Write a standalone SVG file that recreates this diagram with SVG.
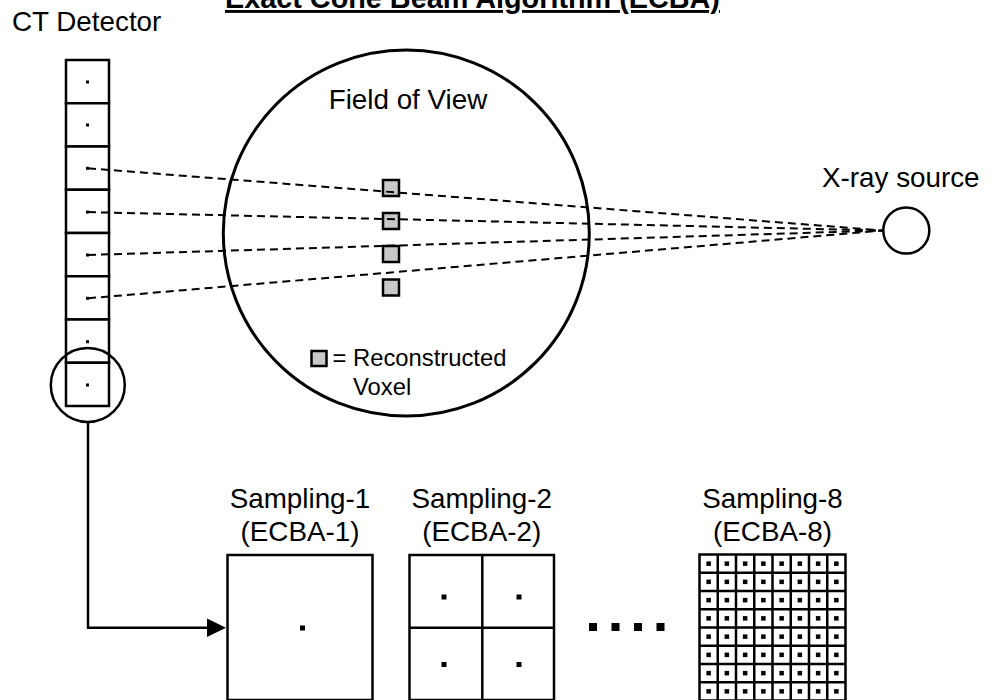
<svg xmlns="http://www.w3.org/2000/svg" width="992" height="700" viewBox="0 0 992 700">
<style>
  text { font-family: "Liberation Sans", Arial, sans-serif; fill: #000; }
  .lbl { font-size: 27.8px; }
  .title { font-size: 28.8px; font-weight: bold; text-decoration: underline; }
  .box { fill: #fff; stroke: #000; stroke-width: 2.5; }
  .thick { fill: none; stroke: #000; stroke-width: 3; }
  .thin { fill: none; stroke: #000; stroke-width: 2.5; }
  .ray { fill: none; stroke: #000; stroke-width: 2; stroke-dasharray: 8 5; }
  .voxel { fill: #c8c8c8; stroke: #000; stroke-width: 2.5; }
  .dot { fill: #000; }
</style>
<rect width="992" height="700" fill="#fff"/>

<g id="title">
  <text class="title" x="225" y="8">Exact Cone Beam Algorithm (ECBA)</text>
</g>

<g id="fov">
  <circle class="thick" cx="406.3" cy="233" r="183"/>
  <text class="lbl" x="408" y="109" text-anchor="middle">Field of View</text>
  <rect class="voxel" x="383" y="180" width="16" height="16"/>
  <rect class="voxel" x="383" y="213" width="16" height="16"/>
  <rect class="voxel" x="383" y="246" width="16" height="16"/>
  <rect class="voxel" x="383" y="279.5" width="16" height="16"/>
</g>

<g id="legend">
  <rect class="voxel" x="311.5" y="351" width="15" height="15"/>
  <text x="332.5" y="365.5" style="font-size:23.8px">= Reconstructed</text>
  <text x="353" y="394.5" style="font-size:23.8px">Voxel</text>
</g>

<g id="detector">
  <text class="lbl" x="12" y="31">CT Detector</text>
  <rect class="box" x="66" y="60" width="43" height="43.25"/>
  <rect class="box" x="66" y="103.25" width="43" height="43.25"/>
  <rect class="box" x="66" y="146.5" width="43" height="43.25"/>
  <rect class="box" x="66" y="189.75" width="43" height="43.25"/>
  <rect class="box" x="66" y="233" width="43" height="43.25"/>
  <rect class="box" x="66" y="276.25" width="43" height="43.25"/>
  <rect class="box" x="66" y="319.5" width="43" height="43.25"/>
  <rect class="box" x="66" y="362.75" width="43" height="43.25"/>
  <rect class="dot" x="86" y="80.5" width="3" height="3"/>
  <rect class="dot" x="86" y="123.5" width="3" height="3"/>
  <rect class="dot" x="86" y="166.8" width="3" height="3"/>
  <rect class="dot" x="86" y="210.6" width="3" height="3"/>
  <rect class="dot" x="86" y="253.5" width="3" height="3"/>
  <rect class="dot" x="86" y="296.8" width="3" height="3"/>
  <rect class="dot" x="86" y="340.2" width="3" height="3"/>
  <rect class="dot" x="86" y="383.5" width="3" height="3"/>
  <circle class="thin" cx="87.8" cy="385" r="37"/>
</g>

<g id="xray-source">
  <text class="lbl" x="822" y="187">X-ray source</text>
  <circle class="thin" cx="906.3" cy="230.5" r="23"/>
</g>

<g id="sampling-1">
  <text class="lbl" x="300" y="507.5" text-anchor="middle">Sampling-1</text>
  <text class="lbl" x="300" y="540.5" text-anchor="middle">(ECBA-1)</text>
  <rect class="box" x="227.5" y="555" width="145" height="145"/>
  <rect class="dot" x="300" y="625.5" width="5" height="5"/>
</g>

<g id="sampling-2">
  <text class="lbl" x="481.7" y="507.5" text-anchor="middle">Sampling-2</text>
  <text class="lbl" x="481.7" y="540.5" text-anchor="middle">(ECBA-2)</text>
  <rect class="box" x="409.5" y="555" width="144.5" height="145"/>
  <path class="thin" d="M482.3,555 V700 M409.5,627.7 H554"/>
  <rect class="dot" x="441.5" y="594.5" width="5" height="5"/>
  <rect class="dot" x="516.5" y="594.5" width="5" height="5"/>
  <rect class="dot" x="441.5" y="662" width="5" height="5"/>
  <rect class="dot" x="516.5" y="662" width="5" height="5"/>
</g>

<g id="ellipsis">
  <rect class="dot" x="589" y="623" width="8" height="8"/>
  <rect class="dot" x="611.5" y="623" width="8" height="8"/>
  <rect class="dot" x="634" y="623" width="8" height="8"/>
  <rect class="dot" x="656.5" y="623" width="8" height="8"/>
</g>

<g id="sampling-8">
  <text class="lbl" x="772.5" y="507.5" text-anchor="middle">Sampling-8</text>
  <text class="lbl" x="772.5" y="540.5" text-anchor="middle">(ECBA-8)</text>
  <rect class="box" x="699.5" y="554.5" width="146" height="146"/>
  <path class="thin" d="M717.75,554.5 V700 M736,554.5 V700 M754.25,554.5 V700 M772.5,554.5 V700 M790.75,554.5 V700 M809,554.5 V700 M827.25,554.5 V700
    M699.5,572.75 H845.5 M699.5,591 H845.5 M699.5,609.25 H845.5 M699.5,627.5 H845.5 M699.5,645.75 H845.5 M699.5,664 H845.5 M699.5,682.25 H845.5"/>
  <g fill="#000">
    <rect x="706.4" y="561.4" width="4.5" height="4.5"/><rect x="724.6" y="561.4" width="4.5" height="4.5"/><rect x="742.9" y="561.4" width="4.5" height="4.5"/><rect x="761.1" y="561.4" width="4.5" height="4.5"/><rect x="779.4" y="561.4" width="4.5" height="4.5"/><rect x="797.6" y="561.4" width="4.5" height="4.5"/><rect x="815.9" y="561.4" width="4.5" height="4.5"/><rect x="834.1" y="561.4" width="4.5" height="4.5"/>
    <rect x="706.4" y="579.6" width="4.5" height="4.5"/><rect x="724.6" y="579.6" width="4.5" height="4.5"/><rect x="742.9" y="579.6" width="4.5" height="4.5"/><rect x="761.1" y="579.6" width="4.5" height="4.5"/><rect x="779.4" y="579.6" width="4.5" height="4.5"/><rect x="797.6" y="579.6" width="4.5" height="4.5"/><rect x="815.9" y="579.6" width="4.5" height="4.5"/><rect x="834.1" y="579.6" width="4.5" height="4.5"/>
    <rect x="706.4" y="597.9" width="4.5" height="4.5"/><rect x="724.6" y="597.9" width="4.5" height="4.5"/><rect x="742.9" y="597.9" width="4.5" height="4.5"/><rect x="761.1" y="597.9" width="4.5" height="4.5"/><rect x="779.4" y="597.9" width="4.5" height="4.5"/><rect x="797.6" y="597.9" width="4.5" height="4.5"/><rect x="815.9" y="597.9" width="4.5" height="4.5"/><rect x="834.1" y="597.9" width="4.5" height="4.5"/>
    <rect x="706.4" y="616.1" width="4.5" height="4.5"/><rect x="724.6" y="616.1" width="4.5" height="4.5"/><rect x="742.9" y="616.1" width="4.5" height="4.5"/><rect x="761.1" y="616.1" width="4.5" height="4.5"/><rect x="779.4" y="616.1" width="4.5" height="4.5"/><rect x="797.6" y="616.1" width="4.5" height="4.5"/><rect x="815.9" y="616.1" width="4.5" height="4.5"/><rect x="834.1" y="616.1" width="4.5" height="4.5"/>
    <rect x="706.4" y="634.4" width="4.5" height="4.5"/><rect x="724.6" y="634.4" width="4.5" height="4.5"/><rect x="742.9" y="634.4" width="4.5" height="4.5"/><rect x="761.1" y="634.4" width="4.5" height="4.5"/><rect x="779.4" y="634.4" width="4.5" height="4.5"/><rect x="797.6" y="634.4" width="4.5" height="4.5"/><rect x="815.9" y="634.4" width="4.5" height="4.5"/><rect x="834.1" y="634.4" width="4.5" height="4.5"/>
    <rect x="706.4" y="652.6" width="4.5" height="4.5"/><rect x="724.6" y="652.6" width="4.5" height="4.5"/><rect x="742.9" y="652.6" width="4.5" height="4.5"/><rect x="761.1" y="652.6" width="4.5" height="4.5"/><rect x="779.4" y="652.6" width="4.5" height="4.5"/><rect x="797.6" y="652.6" width="4.5" height="4.5"/><rect x="815.9" y="652.6" width="4.5" height="4.5"/><rect x="834.1" y="652.6" width="4.5" height="4.5"/>
    <rect x="706.4" y="670.9" width="4.5" height="4.5"/><rect x="724.6" y="670.9" width="4.5" height="4.5"/><rect x="742.9" y="670.9" width="4.5" height="4.5"/><rect x="761.1" y="670.9" width="4.5" height="4.5"/><rect x="779.4" y="670.9" width="4.5" height="4.5"/><rect x="797.6" y="670.9" width="4.5" height="4.5"/><rect x="815.9" y="670.9" width="4.5" height="4.5"/><rect x="834.1" y="670.9" width="4.5" height="4.5"/>
    <rect x="706.4" y="689.1" width="4.5" height="4.5"/><rect x="724.6" y="689.1" width="4.5" height="4.5"/><rect x="742.9" y="689.1" width="4.5" height="4.5"/><rect x="761.1" y="689.1" width="4.5" height="4.5"/><rect x="779.4" y="689.1" width="4.5" height="4.5"/><rect x="797.6" y="689.1" width="4.5" height="4.5"/><rect x="815.9" y="689.1" width="4.5" height="4.5"/><rect x="834.1" y="689.1" width="4.5" height="4.5"/>
  </g>
</g>

<g id="connectors">
  <path class="ray" d="M88,168.3 L883,230.5"/>
  <path class="ray" d="M88,212.1 L883,230.5"/>
  <path class="ray" d="M88,255 L883,230.5"/>
  <path class="ray" d="M88,298.3 L883,230.5"/>
  <path class="thin" d="M88,422 V627.7 H208"/>
  <path d="M207,618.5 L226,627.7 L207,637 z" fill="#000"/>
</g>
</svg>
